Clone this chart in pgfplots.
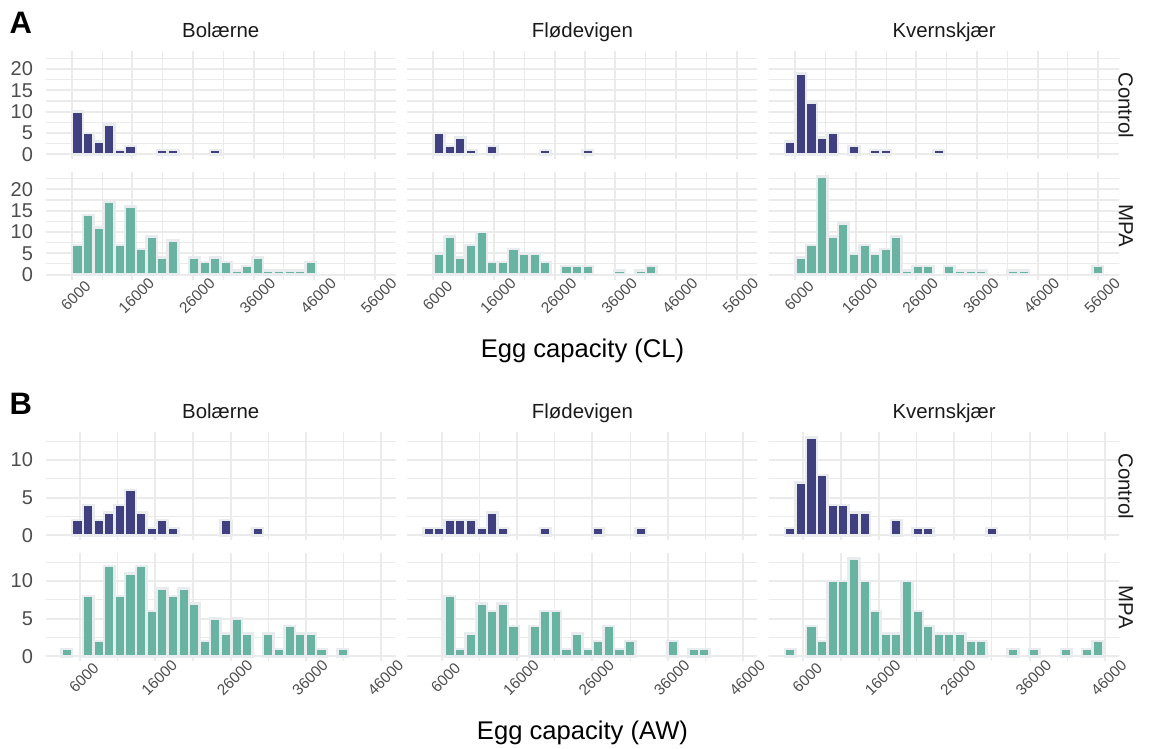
\documentclass[border=0pt]{standalone}
\usepackage{pgfplots}
\pgfplotsset{compat=1.18}
\usepackage{fontspec}
\setmainfont{Liberation Sans}
\definecolor{ctrl}{HTML}{404080}
\definecolor{mpa}{HTML}{69B3A2}
\definecolor{edge}{HTML}{E9ECEF}
\definecolor{gridc}{HTML}{EBEBEB}
\definecolor{tickc}{HTML}{4D4D4D}
\definecolor{stripc}{HTML}{1A1A1A}

\pgfplotsset{
  panel/.style={
    scale only axis, width=175bp, height=53.9bp,
    anchor=north west,
    scaled x ticks=false, scaled y ticks=false,
    axis line style={draw=none},
    tick style={draw=none},
    major tick length=0pt, minor tick length=0pt,
    grid=both,
    major grid style={draw=gridc, line width=1bp},
    minor grid style={draw=gridc, line width=0.55bp},
    yticklabel style={font=\fontsize{10bp}{12bp}\selectfont, text=tickc, inner sep=0pt, anchor=east, xshift=-6.2bp},
    xticklabel style={font=\fontsize{7.7bp}{9bp}\selectfont, text=tickc, inner sep=0pt, xshift=2bp, yshift=-8.1bp, rotate=45, anchor=center},
    xticklabels={}, yticklabels={},
  },
  pA/.style={xmin=1700, xmax=59450, ymin=-1.15, ymax=24.15,
    xtick={6000,16000,26000,36000,46000,56000},
    minor xtick={11000,21000,31000,41000,51000},
    ytick={0,5,10,15,20}, minor ytick={2.5,7.5,12.5,17.5,22.5},
    bar width=1750},
  pB/.style={xmin=1457, xmax=47886, ymin=-0.65, ymax=13.65,
    xtick={6000,16000,26000,36000,46000},
    minor xtick={11000,21000,31000,41000},
    ytick={0,5,10}, minor ytick={2.5,7.5,12.5},
    bar width=1407},
  xlA/.style={xticklabels={6000,16000,26000,36000,46000,56000}},
  xlB/.style={xticklabels={6000,16000,26000,36000,46000}},
  ylA/.style={yticklabels={0,5,10,15,20}},
  ylB/.style={yticklabels={0,5,10}},
  cbar/.style={ybar, bar shift=0pt, fill=ctrl, draw=edge, line width=1.25bp},
  mbar/.style={ybar, bar shift=0pt, fill=mpa, draw=edge, line width=1.25bp},
}

\begin{document}
\begin{tikzpicture}
\path[use as bounding box] (0,0) rectangle (576bp,-374.5bp);

% ================= PANEL A =================
% Bolaerne Control
\begin{axis}[panel, pA, ylA, at={(22.85bp,-25.7bp)}]
\addplot[cbar] coordinates {(6950,10)(8700,5)(10450,3)(12200,7)(13950,1)(15700,2)(20950,1)(22700,1)(29700,1)};
\end{axis}
% Flodevigen Control
\begin{axis}[panel, pA, at={(203.7bp,-25.7bp)}]
\addplot[cbar] coordinates {(6950,5)(8700,2)(10450,4)(12200,1)(15700,2)(24450,1)(31450,1)};
\end{axis}
% Kvernskjaer Control
\begin{axis}[panel, pA, at={(384.55bp,-25.7bp)}]
\addplot[cbar] coordinates {(5200,3)(6950,19)(8700,12)(10450,4)(12200,5)(15700,2)(19200,1)(20950,1)(29700,1)};
\end{axis}
% Bolaerne MPA
\begin{axis}[panel, pA, ylA, xlA, at={(22.85bp,-85.85bp)}]
\addplot[mbar] coordinates {(6950,7)(8700,14)(10450,11)(12200,17)(13950,7)(15700,16)(17450,6)(19200,9)(20950,4)(22700,8)(26200,4)(27950,3)(29700,4)(31450,3)(33200,1)(34950,2)(36700,4)(38450,1)(40200,1)(41950,1)(43700,1)(45450,3)};
\end{axis}
% Flodevigen MPA
\begin{axis}[panel, pA, xlA, at={(203.7bp,-85.85bp)}]
\addplot[mbar] coordinates {(6950,5)(8700,9)(10450,4)(12200,7)(13950,10)(15700,3)(17450,3)(19200,6)(20950,5)(22700,5)(24450,3)(27950,2)(29700,2)(31450,2)(36700,1)(40200,1)(41950,2)};
\end{axis}
% Kvernskjaer MPA
\begin{axis}[panel, pA, xlA, at={(384.55bp,-85.85bp)}]
\addplot[mbar] coordinates {(6950,4)(8700,7)(10450,23)(12200,9)(13950,12)(15700,5)(17450,7)(19200,5)(20950,6)(22700,9)(24450,1)(26200,2)(27950,2)(31450,2)(33200,1)(34950,1)(36700,1)(41950,1)(43700,1)(55950,2)};
\end{axis}

% ================= PANEL B =================
% Bolaerne Control
\begin{axis}[panel, pB, ylB, at={(22.85bp,-216.2bp)}]
\addplot[cbar] coordinates {(5677,2)(7084,4)(8491,2)(9898,3)(11305,4)(12712,6)(14119,3)(15526,1)(16933,2)(18340,1)(25375,2)(29596,1)};
\end{axis}
% Flodevigen Control
\begin{axis}[panel, pB, at={(203.7bp,-216.2bp)}]
\addplot[cbar] coordinates {(4270,1)(5677,1)(7084,2)(8491,2)(9898,2)(11305,1)(12712,3)(14119,1)(19747,1)(26782,1)(32410,1)};
\end{axis}
% Kvernskjaer Control
\begin{axis}[panel, pB, at={(384.55bp,-216.2bp)}]
\addplot[cbar] coordinates {(4270,1)(5677,7)(7084,13)(8491,8)(9898,4)(11305,4)(12712,3)(14119,3)(18340,2)(21154,1)(22561,1)(31003,1)};
\end{axis}
% Bolaerne MPA
\begin{axis}[panel, pB, ylB, xlB, at={(22.85bp,-276.7bp)}]
\addplot[mbar] coordinates {(4270,1)(7084,8)(8491,2)(9898,12)(11305,8)(12712,11)(14119,12)(15526,6)(16933,9)(18340,8)(19747,9)(21154,7)(22561,2)(23968,5)(25375,3)(26782,5)(28189,3)(31003,3)(32410,1)(33817,4)(35224,3)(36631,3)(38038,1)(40852,1)};
\end{axis}
% Flodevigen MPA
\begin{axis}[panel, pB, xlB, at={(203.7bp,-276.7bp)}]
\addplot[mbar] coordinates {(7084,8)(8491,1)(9898,3)(11305,7)(12712,6)(14119,7)(15526,4)(18340,4)(19747,6)(21154,6)(22561,1)(23968,3)(25375,1)(26782,2)(28189,4)(29596,1)(31003,2)(36631,2)(39445,1)(40852,1)};
\end{axis}
% Kvernskjaer MPA
\begin{axis}[panel, pB, xlB, at={(384.55bp,-276.7bp)}]
\addplot[mbar] coordinates {(4270,1)(7084,4)(8491,2)(9898,10)(11305,10)(12712,13)(14119,10)(15526,6)(16933,3)(18340,3)(19747,10)(21154,6)(22561,4)(23968,3)(25375,3)(26782,3)(28189,2)(29596,2)(33817,1)(36631,1)(40852,1)(43666,1)(45073,2)};
\end{axis}

% ================= TEXT =================
\begin{scope}[every node/.style={inner sep=0pt}]
\node[font=\fontsize{15.5bp}{18bp}\selectfont\bfseries] at (10.4bp,-11.25bp) {A};
\node[font=\fontsize{15.5bp}{18bp}\selectfont\bfseries] at (10.4bp,-201.75bp) {B};

\foreach \yy in {-18.85,-209.35}{
  \node[anchor=base, font=\fontsize{10.2bp}{12bp}\selectfont, text=stripc] at (110.35bp,\yy bp) {Bolærne};
  \node[anchor=base, font=\fontsize{10.2bp}{12bp}\selectfont, text=stripc] at (291.2bp,\yy bp) {Flødevigen};
  \node[anchor=base, font=\fontsize{10.2bp}{12bp}\selectfont, text=stripc] at (472.05bp,\yy bp) {Kvernskjær};
}
\foreach \yy/\lab in {-52.65/Control,-112.8/MPA,-243.15/Control,-303.65/MPA}{
  \node[rotate=-90, font=\fontsize{10.2bp}{12bp}\selectfont, text=stripc] at (563bp,\yy bp) {\lab};
}
\node[anchor=base, font=\fontsize{12.8bp}{15bp}\selectfont] at (291.25bp,-178.65bp) {Egg capacity (CL)};
\node[anchor=base, font=\fontsize{12.8bp}{15bp}\selectfont] at (291.25bp,-369.85bp) {Egg capacity (AW)};
\end{scope}
\end{tikzpicture}
\end{document}
